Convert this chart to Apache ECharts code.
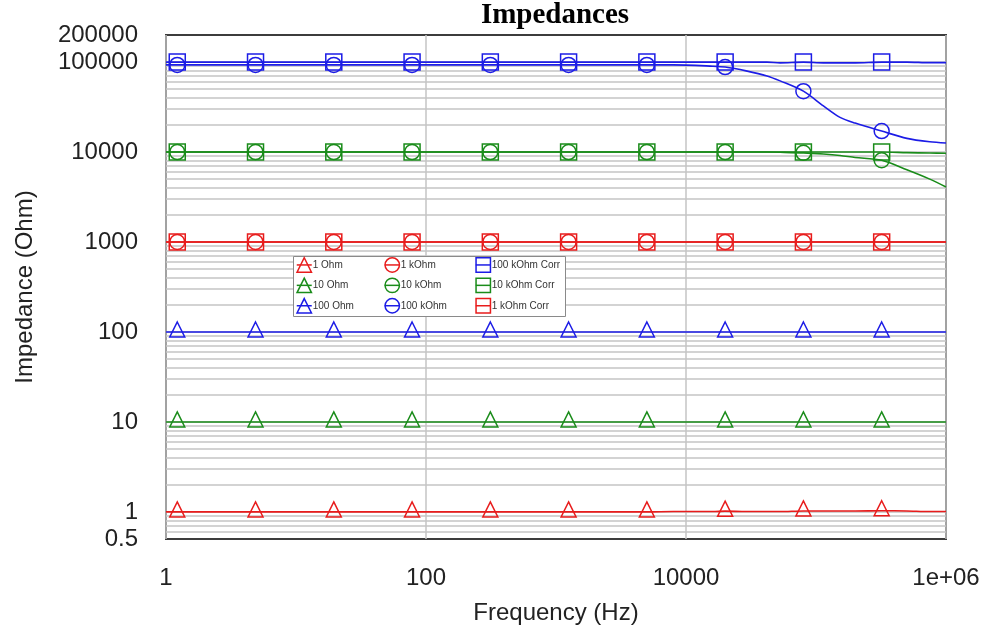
<!DOCTYPE html>
<html><head><meta charset="utf-8">
<script src="https://cdn.jsdelivr.net/npm/echarts@6/dist/echarts.min.js"></script>
<style>html,body{margin:0;padding:0;background:#fff}#chart{width:1006px;height:635px}</style>
</head><body><div id="chart"></div>
<script>
// ---- data ----
const markerFreq = [1.2207, 4.8828, 19.531, 78.125, 312.5, 1250, 5000, 20000, 80000, 320000];
const lineFreq = [1, 10, 100, 1000, 8000, 16000, 29000, 42000, 53000, 114000, 153000, 200000, 500000, 750000, 1000000];

const ohm1Markers   = [1, 1, 1, 1, 1, 1, 1, 1.02, 1.025, 1.03];
const ohm1Line      = [1, 1, 1, 1, 1.01, 1.01, 1.01, 1.01, 1.01, 1.025, 1.025, 1.025, 1.025, 1.01, 1.01];
const ohm10Markers  = [10, 10, 10, 10, 10, 10, 10, 10, 10, 10];
const ohm10Line     = [10, 10, 10, 10, 10, 10, 10, 10, 10, 10, 10, 10, 10, 10, 10];
const ohm100Markers = [100, 100, 100, 100, 100, 100, 100, 100, 100, 100];
const ohm100Line    = [100, 100, 100, 100, 100, 100, 100, 100, 100, 100, 100, 100, 100, 100, 100];
const k1Markers     = [1000, 1000, 1000, 1000, 1000, 1000, 1000, 1000, 1000, 1000];
const k1Line        = [1000, 1000, 1000, 1000, 1000, 1000, 1000, 1000, 1000, 1000, 1000, 1000, 1000, 1000, 1000];
const k10Markers    = [10000, 10000, 10000, 10000, 10000, 10000, 10000, 10000, 9800, 8100];
const k10Line       = [10000, 10000, 10000, 10000, 10000, 10000, 10000, 10000, 9950, 9500, 9150, 8700, 6350, 5000, 4090];
const k100Markers   = [93000, 93000, 93000, 93000, 93000, 93000, 93000, 88000, 47500, 17100];
const k100Line      = [93000, 93000, 93000, 93000, 93000, 90000, 79800, 70200, 61800, 32600, 24300, 21000, 14200, 13000, 12600];
const k100CMarkers  = [100000, 100000, 100000, 100000, 100000, 100000, 100000, 100000, 100000, 100000];
const k100CLine     = [100000, 100000, 100000, 100000, 100000, 100000, 100000, 100000, 98000, 98000, 98000, 98000, 100000, 98500, 98500];
const k10CMarkers   = [10000, 10000, 10000, 10000, 10000, 10000, 10000, 10000, 10000, 10000];
const k10CLine      = [10000, 10000, 10000, 10000, 10000, 10000, 10000, 10000, 10000, 10000, 10000, 10000, 9850, 9750, 9700];
const k1CMarkers    = [1000, 1000, 1000, 1000, 1000, 1000, 1000, 1000, 1000, 1000];
const k1CLine       = [1000, 1000, 1000, 1000, 1000, 1000, 1000, 1000, 1000, 1000, 1000, 1000, 1000, 1000, 1000];

const seriesNames = ['1 Ohm', '10 Ohm', '100 Ohm', '1 kOhm', '10 kOhm', '100 kOhm', '100 kOhm Corr', '10 kOhm Corr', '1 kOhm Corr'];
const legendColumns = [
  ['1 Ohm', '10 Ohm', '100 Ohm'],
  ['1 kOhm', '10 kOhm', '100 kOhm'],
  ['100 kOhm Corr', '10 kOhm Corr', '1 kOhm Corr']
];

const xTickValues = [1, 100, 10000, 1000000];
const xTickLabels = ['1', '100', '10000', '1e+06'];
const yLabelValues = [0.5, 1, 10, 100, 1000, 10000, 100000, 200000];
const yLabelTexts  = ['0.5', '1', '10', '100', '1000', '10000', '100000', '200000'];
const yGridValues = [0.6, 0.7, 0.8, 0.9, 1, 2, 3, 4, 5, 6, 7, 8, 9,
  10, 20, 30, 40, 50, 60, 70, 80, 90,
  100, 200, 300, 400, 500, 600, 700, 800, 900,
  1000, 2000, 3000, 4000, 5000, 6000, 7000, 8000, 9000,
  10000, 20000, 30000, 40000, 50000, 60000, 70000, 80000, 90000, 100000];

// ---- styles ----
const RED = '#e81c1c', GREEN = '#1a8c1a', BLUE = '#1c1ce6';
const styleMap = {
  '1 Ohm':        {color: RED,   symbol: 'triangle', m: ohm1Markers,   l: ohm1Line},
  '10 Ohm':       {color: GREEN, symbol: 'triangle', m: ohm10Markers,  l: ohm10Line},
  '100 Ohm':      {color: BLUE,  symbol: 'triangle', m: ohm100Markers, l: ohm100Line},
  '1 kOhm':       {color: RED,   symbol: 'circle',   m: k1Markers,     l: k1Line},
  '10 kOhm':      {color: GREEN, symbol: 'circle',   m: k10Markers,    l: k10Line},
  '100 kOhm':     {color: BLUE,  symbol: 'circle',   m: k100Markers,   l: k100Line},
  '100 kOhm Corr':{color: BLUE,  symbol: 'rect',     m: k100CMarkers,  l: k100CLine},
  '10 kOhm Corr': {color: GREEN, symbol: 'rect',     m: k10CMarkers,   l: k10CLine},
  '1 kOhm Corr':  {color: RED,   symbol: 'rect',     m: k1CMarkers,    l: k1CLine}
};

function buildData(markers, line) {
  const pts = [];
  lineFreq.forEach((f, i) => pts.push({value: [f, line[i]], symbol: 'none'}));
  markerFreq.forEach((f, i) => pts.push({value: [f, markers[i]]}));
  pts.sort((a, b) => a.value[0] - b.value[0]);
  return pts;
}

const series = seriesNames.map(name => {
  const s = styleMap[name];
  const isTri = s.symbol === 'triangle';
  return {
    name: name,
    type: 'line',
    data: buildData(s.m, s.l),
    symbol: s.symbol,
    symbolSize: s.symbol === 'rect' ? 16 : 15,
    symbolOffset: isTri ? [0, -2.5] : [0, 0],
    showSymbol: true,
    showAllSymbol: true,
    smooth: 0.3,
    lineStyle: {color: s.color, width: 1.6},
    itemStyle: {color: 'rgba(0,0,0,0)', borderColor: s.color, borderWidth: 1.5},
    emphasis: {disabled: true},
    z: 3
  };
});

const FONT = '"Liberation Sans", Arial, sans-serif';
const legendLefts = [296, 384, 475];

const legends = legendColumns.map((col, ci) => ({
  left: legendLefts[ci],
  top: 257,
  orient: 'vertical',
  itemWidth: 15,
  itemHeight: 18,
  itemGap: 4.5,
  padding: 0,
  selectedMode: false,
  z: 10,
  textStyle: {fontFamily: FONT, fontSize: 10, color: '#333', padding: [0, 0, 0, -4]},
  data: col.map(n => ({
    name: n,
    itemStyle: {color: 'rgba(0,0,0,0)', borderColor: styleMap[n].color, borderWidth: 1.5},
    lineStyle: {color: styleMap[n].color, width: 1.5}
  }))
}));

const option = {
  animation: false,
  backgroundColor: '#ffffff',
  title: {
    text: 'Impedances',
    left: 550,
    textAlign: 'center',
    top: -4,
    textStyle: {fontFamily: '"Liberation Serif", "Times New Roman", serif', fontWeight: 'bold', fontSize: 29, color: '#000'}
  },
  graphic: [{
    type: 'rect',
    left: 293, top: 256,
    shape: {width: 272, height: 60},
    style: {fill: '#ffffff', stroke: '#8a8a8a', lineWidth: 1},
    z: 5
  }],
  legend: legends,
  grid: {
    left: 166, right: 60, top: 35, bottom: 96,
    show: true, borderColor: '#3c3c3c', borderWidth: 2, backgroundColor: 'transparent'
  },
  xAxis: {
    type: 'log',
    logBase: 100,
    min: 1,
    max: 1000000,
    name: 'Frequency (Hz)',
    nameLocation: 'middle',
    nameGap: 62,
    nameTextStyle: {fontFamily: FONT, fontSize: 24, color: '#222'},
    axisLine: {show: false},
    axisTick: {show: false},
    axisLabel: {
      fontFamily: FONT, fontSize: 24, color: '#222', margin: 27,
      formatter: function (v) {
        for (let i = 0; i < xTickValues.length; i++) {
          if (Math.abs(Math.log10(v) - Math.log10(xTickValues[i])) < 1e-6) return xTickLabels[i];
        }
        return '';
      }
    },
    splitLine: {show: true, lineStyle: {color: '#c4c4c4', width: 1.5}}
  },
  yAxis: {
    type: 'log',
    logBase: 10,
    min: 0.5,
    max: 200000,
    name: 'Impedance (Ohm)',
    nameLocation: 'middle',
    nameGap: 129,
    nameTextStyle: {fontFamily: FONT, fontSize: 24, color: '#222'},
    axisLine: {show: false},
    axisTick: {show: false, customValues: yGridValues},
    axisLabel: {
      fontFamily: FONT, fontSize: 24, color: '#222', margin: 28,
      customValues: yLabelValues,
      formatter: function (v) {
        for (let i = 0; i < yLabelValues.length; i++) {
          if (Math.abs(Math.log10(v) - Math.log10(yLabelValues[i])) < 1e-6) return yLabelTexts[i];
        }
        return '';
      }
    },
    splitLine: {show: true, lineStyle: {color: '#c4c4c4', width: 1.5}}
  },
  series: series
};

const chart = echarts.init(document.getElementById('chart'), null, {renderer: 'canvas'});
chart.setOption(option);
</script>
</body></html>
